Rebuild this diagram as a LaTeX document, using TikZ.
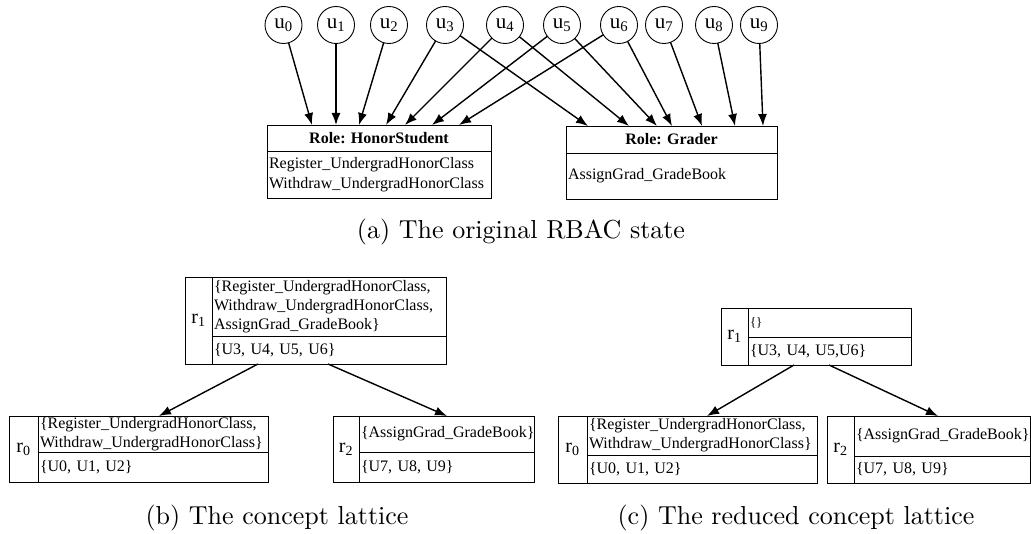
\documentclass[tikz,border=0pt]{standalone}
\usepackage{fontspec}
\setmainfont{Latin Modern Roman}
\newfontfamily\tnr{Liberation Serif}
\newfontfamily\capfont{lmroman10-regular}[Extension=.otf]
\usetikzlibrary{arrows.meta}
\begin{document}
\begin{tikzpicture}[x=1pt,y=-1pt,
  every node/.style={inner sep=0pt, outer sep=0pt},
  user/.style={circle, draw, line width=0.9pt, minimum size=37pt,
    font=\tnr\fontsize{21}{23}\selectfont},
  cellbox/.style={draw, line width=0.9pt, anchor=north west, inner xsep=2pt,
    inner ysep=0pt, align=left, font=\tnr\fontsize{16}{19}\selectfont},
  headbox/.style={draw, line width=0.9pt, anchor=north west,
    font=\tnr\bfseries\fontsize{16}{19}\selectfont},
  tagbox/.style={draw, line width=0.9pt, anchor=north west,
    font=\tnr\fontsize{20}{22}\selectfont},
  link/.style={line width=1.4pt, -{Latex[length=12pt,width=9pt]}},
  caption/.style={font=\capfont\fontsize{26}{30}\selectfont}
]
\useasboundingbox (0,0) rectangle (1031,534);

% ---------- (a) users and roles ----------
\node[user] (u0) at (283.5,25) {u\textsubscript{0}};
\node[user] (u1) at (336,25) {u\textsubscript{1}};
\node[user] (u2) at (389,25) {u\textsubscript{2}};
\node[user] (u3) at (445,25) {u\textsubscript{3}};
\node[user] (u4) at (505,25) {u\textsubscript{4}};
\node[user] (u5) at (562,25) {u\textsubscript{5}};
\node[user] (u6) at (619,25) {u\textsubscript{6}};
\node[user] (u7) at (664,25) {u\textsubscript{7}};
\node[user] (u8) at (714,25) {u\textsubscript{8}};
\node[user] (u9) at (759,25) {u\textsubscript{9}};

\node[headbox, minimum width=224pt, minimum height=26pt] (hshead) at (267,125) {Role: HonorStudent};
\node[cellbox, text width=220pt, minimum height=47pt, font=\tnr\fontsize{16}{20.5}\selectfont] (hsbody) at (267,151)
  {Register\_UndergradHonorClass\\Withdraw\_UndergradHonorClass};

\node[headbox, minimum width=211pt, minimum height=27pt] (grhead) at (566,126) {Role: Grader};
\node[cellbox, text width=207pt, minimum height=46pt] (grbody) at (566,153) {AssignGrad\_GradeBook};

\draw[link] (u0) -- ([xshift=45pt]hshead.north west);
\draw[link] (u1) -- ([xshift=69pt]hshead.north west);
\draw[link] (u2) -- ([xshift=92pt]hshead.north west);
\draw[link] (u3) -- ([xshift=119pt]hshead.north west);
\draw[link] (u4) -- ([xshift=138pt]hshead.north west);
\draw[link] (u5) -- ([xshift=165pt]hshead.north west);
\draw[link] (u6) -- ([xshift=192pt]hshead.north west);

\draw[link] (u3) -- ([xshift=22pt]grhead.north west);
\draw[link] (u4) -- ([xshift=63pt]grhead.north west);
\draw[link] (u5) -- ([xshift=91pt]grhead.north west);
\draw[link] (u6) -- ([xshift=106pt]grhead.north west);
\draw[link] (u7) -- ([xshift=136pt]grhead.north west);
\draw[link] (u8) -- ([xshift=169pt]grhead.north west);
\draw[link] (u9) -- ([xshift=197pt]grhead.north west);

\node[caption] (capa) at (521,232) {(a) The original RBAC state};

% ---------- (b) concept lattice ----------
\node[tagbox, minimum width=27pt, minimum height=87pt] (b1tag) at (185,277) {r\textsubscript{1}};
\node[cellbox, text width=230pt, minimum height=59pt] (b1top) at (212,277)
  {\{Register\_UndergradHonorClass,\\Withdraw\_UndergradHonorClass,\\AssignGrad\_GradeBook\}};
\node[cellbox, text width=230pt, minimum height=28pt] (b1bot) at (212,336) {\{U3, U4, U5, U6\}};

\node[tagbox, minimum width=29pt, minimum height=66pt] (b0tag) at (9,416) {r\textsubscript{0}};
\node[cellbox, text width=226pt, minimum height=36pt] (b0top) at (38,416)
  {\{Register\_UndergradHonorClass,\\Withdraw\_UndergradHonorClass\}};
\node[cellbox, text width=226pt, minimum height=30pt] (b0bot) at (38,452) {\{U0, U1, U2\}};

\node[tagbox, minimum width=26pt, minimum height=66pt] (b2tag) at (333,416) {r\textsubscript{2}};
\node[cellbox, text width=171pt, minimum height=36pt] (b2top) at (359,416) {\{AssignGrad\_GradeBook\}};
\node[cellbox, text width=171pt, minimum height=30pt] (b2bot) at (359,452) {\{U7, U8, U9\}};

\draw[link] ([xshift=46pt]b1bot.south west) -- ([xshift=121pt]b0top.north west);
\draw[link] ([xshift=116pt]b1bot.south west) -- ([xshift=88pt]b2top.north west);

\node[caption] (capb) at (277,518) {(b) The concept lattice};

% ---------- (c) reduced concept lattice ----------
\node[tagbox, minimum width=27pt, minimum height=57pt] (c1tag) at (721,308) {r\textsubscript{1}};
\node[cellbox, text width=159pt, minimum height=29pt, font=\tnr\fontsize{13}{15}\selectfont] (c1top) at (748,308) {\{\}};
\node[cellbox, text width=159pt, minimum height=28pt] (c1bot) at (748,337) {\{U3, U4, U5,U6\}};

\node[tagbox, minimum width=29pt, minimum height=67pt] (c0tag) at (558,416) {r\textsubscript{0}};
\node[cellbox, text width=226pt, minimum height=39pt] (c0top) at (587,416)
  {\{Register\_UndergradHonorClass,\\Withdraw\_UndergradHonorClass\}};
\node[cellbox, text width=226pt, minimum height=28pt] (c0bot) at (587,455) {\{U0, U1, U2\}};

\node[tagbox, minimum width=27pt, minimum height=67pt] (c2tag) at (827,416) {r\textsubscript{2}};
\node[cellbox, text width=172pt, minimum height=40pt] (c2top) at (854,416) {\{AssignGrad\_GradeBook\}};
\node[cellbox, text width=172pt, minimum height=27pt] (c2bot) at (854,456) {\{U7, U8, U9\}};

\draw[link] ([xshift=46pt]c1bot.south west) -- ([xshift=120pt]c0top.north west);
\draw[link] ([xshift=81pt]c1bot.south west) -- ([xshift=84pt]c2top.north west);

\node[caption] (capc) at (796,518) {(c) The reduced concept lattice};
\end{tikzpicture}
\end{document}
